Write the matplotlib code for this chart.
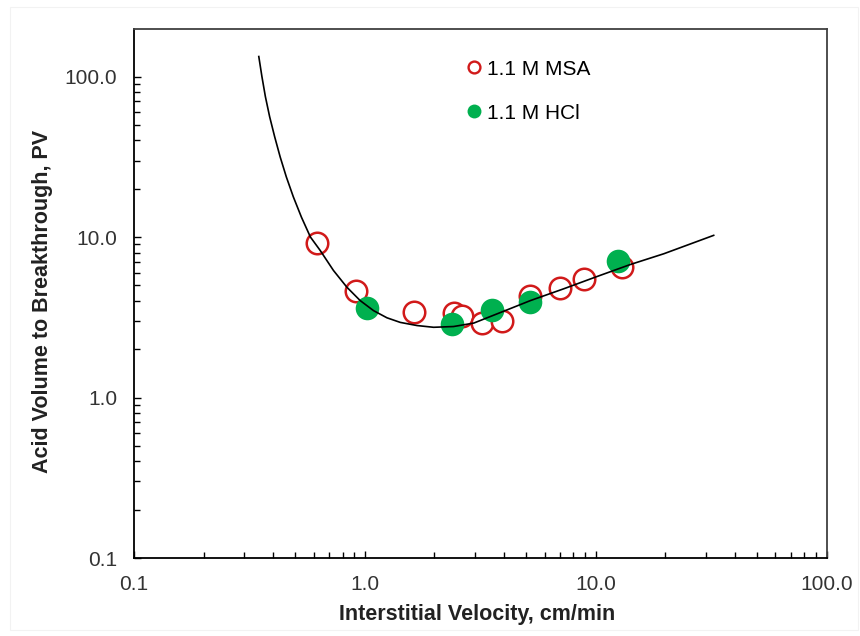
import matplotlib
matplotlib.use("Agg")
import matplotlib.pyplot as plt
from matplotlib.lines import Line2D
from matplotlib.ticker import LogLocator, FixedLocator, FixedFormatter, NullFormatter
from matplotlib.patches import Rectangle

plt.rcParams['font.family'] = ['Liberation Sans', 'DejaVu Sans']

# Data
msa_x = [0.623, 0.917, 1.636, 2.42, 2.63, 3.21, 3.93, 5.17, 7.03, 8.86, 13.0]
msa_y = [9.17, 4.64, 3.40, 3.35, 3.24, 2.90, 2.99, 4.32, 4.83, 5.50, 6.49]

hcl_x = [1.026, 2.38, 3.55, 5.17, 12.45]
hcl_y = [3.62, 2.87, 3.53, 3.92, 7.05]

fit_x = [0.3471, 0.3581, 0.3707, 0.3868, 0.4066, 0.4295, 0.4568, 0.4899,
         0.5311, 0.5809, 0.6400, 0.7310, 0.8356, 0.954, 1.090, 1.246,
         1.422, 1.681, 1.984, 2.42, 2.96, 3.99, 5.21, 7.26, 10.13,
         14.13, 19.70, 32.4]
fit_y = [133.4, 100.0, 75.0, 56.2, 42.2, 31.6, 23.7, 17.8,
         13.3, 10.0, 8.26, 6.19, 4.87, 4.02, 3.48, 3.14,
         2.94, 2.81, 2.74, 2.77, 2.91, 3.45, 4.02, 4.76, 5.68,
         6.75, 7.87, 10.25]

x_ticks = [0.1, 1.0, 10.0, 100.0]
x_tick_labels = ["0.1", "1.0", "10.0", "100.0"]
y_ticks = [0.1, 1.0, 10.0, 100.0]
y_tick_labels = ["0.1", "1.0", "10.0", "100.0"]

labels = ["1.1 M MSA", "1.1 M HCl"]

fig = plt.figure(figsize=(8.6, 6.36), dpi=100)
frame = Rectangle((10/860, 6/636), 848/860, 623/636, transform=fig.transFigure,
                  fill=False, edgecolor='#f2f2f2', lw=0.8, zorder=-5)
fig.patches.append(frame)
ax = fig.add_axes([134/860, 1-558/636, (826.7-134)/860, (558-29)/636])

red = '#d11a1a'
green = '#00b04f'

ax.plot(msa_x, msa_y, linestyle='none', marker='o', ms=15.5, mfc='white',
        mec=red, mew=1.8, zorder=3)
ax.plot(hcl_x, hcl_y, linestyle='none', marker='o', ms=17, mfc=green,
        mec=green, mew=0, zorder=4)
ax.plot(fit_x, fit_y, color='black', lw=1.2, zorder=5)

ax.set_xscale('log')
ax.set_yscale('log')
ax.set_xlim(0.1, 100)
ax.set_ylim(0.1, 198)

ax.xaxis.set_major_locator(FixedLocator(x_ticks))
ax.xaxis.set_major_formatter(FixedFormatter(x_tick_labels))
ax.yaxis.set_major_locator(FixedLocator(y_ticks))
ax.yaxis.set_major_formatter(FixedFormatter(y_tick_labels))
ax.xaxis.set_minor_locator(LogLocator(base=10, subs=range(2, 10)))
ax.yaxis.set_minor_locator(LogLocator(base=10, subs=range(2, 10)))
ax.xaxis.set_minor_formatter(NullFormatter())
ax.yaxis.set_minor_formatter(NullFormatter())

ax.tick_params(which='both', direction='in', top=False, right=False,
               width=1.0, color='black')
ax.tick_params(which='major', length=5, labelsize=15, pad=12, labelcolor='#333333')
ax.tick_params(which='minor', length=4)

for s in ['left', 'bottom']:
    ax.spines[s].set_color('black')
    ax.spines[s].set_linewidth(1.3)
for s in ['top', 'right']:
    ax.spines[s].set_color('#404040')
    ax.spines[s].set_linewidth(1.3)

ax.set_xlabel("Interstitial Velocity, cm/min", fontsize=15.5, fontweight='bold',
              color='#222222')
ax.set_ylabel("Acid Volume to Breakthrough, PV", fontsize=15.5, fontweight='bold',
              color='#222222')
ax.xaxis.set_label_coords((477 - 134) / (826.7 - 134), -(604 - 558) / (558 - 29))
ax.yaxis.set_label_coords(-(134 - 53) / (826.7 - 134), (558 - 301) / (558 - 29))

handles = [
    Line2D([], [], linestyle='none', marker='o', ms=8.5, mfc='white', mec=red, mew=1.7),
    Line2D([], [], linestyle='none', marker='o', ms=10, mfc=green, mec=green, mew=0),
]
ax.legend(handles, labels, loc='upper left', bbox_to_anchor=(0.47, 0.958),
          frameon=False, fontsize=15, handlelength=0.6, handletextpad=0.3,
          labelspacing=1.2, borderaxespad=0.0)

fig.savefig("out.png", dpi=100)
